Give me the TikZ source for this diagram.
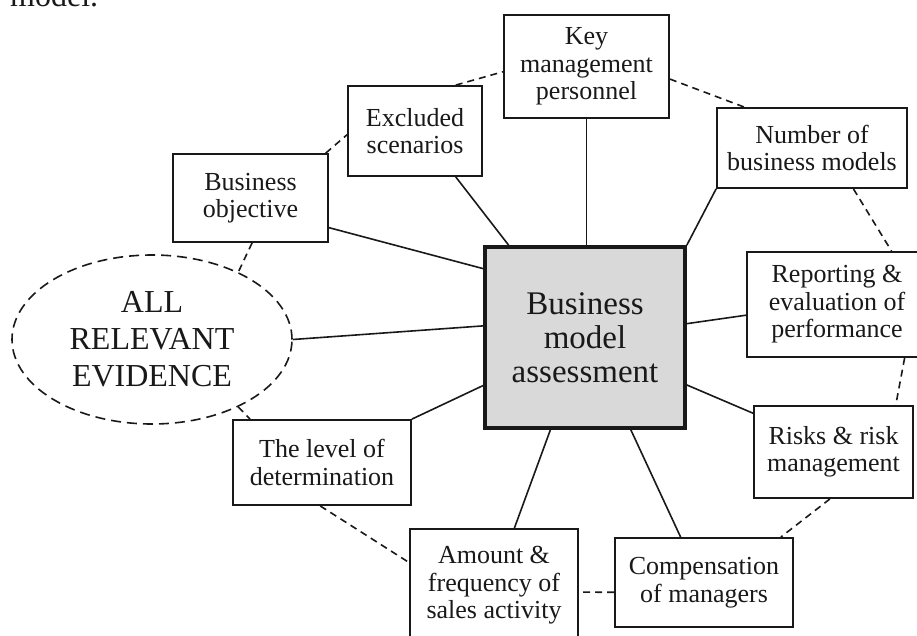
\documentclass[tikz,border=0pt]{standalone}
\usepackage{fontspec}
\setmainfont{Liberation Serif}
\usetikzlibrary{calc,shapes.geometric}
\definecolor{ink}{RGB}{25,25,25}
\definecolor{boxgray}{RGB}{217,217,217}
\tikzset{
  item/.style={draw=ink, line width=1.8pt, fill=white, inner sep=0pt, align=center,
    font=\fontsize{26}{27.5}\selectfont, text=ink},
  hub/.style={draw=ink, line width=3.6pt, fill=boxgray, inner sep=0pt, align=center,
    font=\fontsize{33}{34}\selectfont, text=ink},
  evid/.style={ellipse, draw=ink, dash pattern=on 10pt off 6pt, line width=1.6pt, fill=white,
    inner sep=0pt, align=center, font=\fontsize{32}{37}\selectfont, text=ink},
  link/.style={draw=ink, line width=1.6pt},
  ring/.style={draw=ink, line width=1.6pt, dash pattern=on 7pt off 5pt},
}
\begin{document}
\begin{tikzpicture}[x=1pt,y=-1pt]
\useasboundingbox (0,0) rectangle (917,635);
\fill[white] (0,0) rectangle (917,635);
% caption fragment
\node[anchor=base west, inner sep=0pt, font=\fontsize{32}{37}\selectfont, text=ink] (cap) at (10,6.5) {model.};
% nodes
\node[hub, minimum width=200pt, minimum height=181pt] (c) at (585,337.5) {Business\\model\\assessment};
\node[evid, minimum width=280pt, minimum height=169pt] (ev) at (152,339.5) {ALL\\RELEVANT\\EVIDENCE};
\node[item, minimum width=155pt, minimum height=88pt] (bo) at (250.5,198) {Business\\objective};
\node[item, minimum width=134pt, minimum height=90pt] (ex) at (415,131) {Excluded\\scenarios};
\node[item, minimum width=165pt, minimum height=103pt] (key) at (586.5,66.5) {Key\\management\\personnel};
\node[item, minimum width=190pt, minimum height=80pt] (num) at (812,148) {Number of\\business models};
\node[item, minimum width=180pt, minimum height=105pt] (rep) at (837,304.5) {Reporting \&\\evaluation of\\performance};
\node[item, minimum width=159pt, minimum height=92pt] (risk) at (833.5,452) {Risks \& risk\\management};
\node[item, minimum width=178pt, minimum height=89pt] (comp) at (704,582.5) {Compensation\\of managers};
\node[item, minimum width=168pt, minimum height=113pt] (amt) at (494,585.5) {Amount \&\\frequency of\\sales activity};
\node[item, minimum width=178pt, minimum height=85pt] (lvl) at (322,462.5) {The level of\\determination};
% solid connectors
\draw[link] ($(bo.north east)!0.83!(bo.south east)$) -- ($(c.north west)!0.127!(c.south west)$);
\draw[link] ($(ex.south west)!0.8!(ex.south east)$) -- ($(c.north west)!0.125!(c.north east)$);
\draw[link] (key.south) -- (key.south |- c.north);
\draw[link] (num.south west) -- (c.north east);
\draw[link] ($(rep.north west)!0.6!(rep.south west)$) -- ($(c.north east)!0.425!(c.south east)$);
\draw[link] ($(risk.north west)!0.087!(risk.south west)$) -- ($(c.north east)!0.757!(c.south east)$);
\draw[link] ($(comp.north west)!0.37!(comp.north east)$) -- ($(c.south west)!0.725!(c.south east)$);
\draw[link] ($(amt.north west)!0.62!(amt.north east)$) -- ($(c.south west)!0.33!(c.south east)$);
\draw[link] (lvl.north east) -- ($(c.north west)!0.76!(c.south west)$);
\draw[link] (ev.east) -- ($(c.north west)!0.437!(c.south west)$);
% dashed ring
\draw[ring] ($(bo.south west)!0.51!(bo.south east)$) -- (ev.38);
\draw[ring] ($(bo.north west)!0.98!(bo.north east)$) -- ($(ex.north west)!0.54!(ex.south west)$);
\draw[ring] ($(ex.north west)!0.8!(ex.north east)$) -- ($(key.north west)!0.55!(key.south west)$);
\draw[ring] ($(key.north east)!0.62!(key.south east)$) -- ($(num.north west)!0.147!(num.north east)$);
\draw[ring] ($(num.south west)!0.716!(num.south east)$) -- ($(rep.north west)!0.8!(rep.north east)$);
\draw[ring] ($(rep.south west)!0.872!(rep.south east)$) -- ($(risk.north west)!0.887!(risk.north east)$);
\draw[ring] ($(risk.south west)!0.478!(risk.south east)$) -- ($(comp.north west)!0.927!(comp.north east)$);
\draw[ring] ($(comp.north west)!0.607!(comp.south west)$) -- ($(amt.north east)!0.558!(amt.south east)$);
\draw[ring] ($(lvl.south west)!0.49!(lvl.south east)$) -- ($(amt.north west)!0.30!(amt.south west)$);
\draw[ring] (ev.-38) -- ($(lvl.north west)!0.1!(lvl.north east)$);
\end{tikzpicture}
\end{document}
